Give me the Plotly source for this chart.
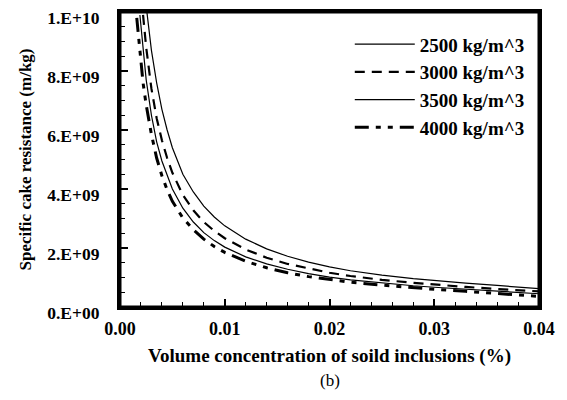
import plotly.graph_objects as go

# Volume concentration (%) and specific cake resistance (m/kg, in 1e9 units)
x_2500 = [0.0025, 0.003, 0.0035, 0.004, 0.0045, 0.005, 0.006, 0.007, 0.008, 0.009, 0.010,
          0.012, 0.014, 0.016, 0.018, 0.020, 0.022, 0.025, 0.028, 0.030, 0.033, 0.036, 0.040]
y_2500 = [10.2, 8.7, 7.6, 6.7, 6.0, 5.4, 4.5, 3.9, 3.42, 3.05, 2.75,
          2.3, 1.97, 1.72, 1.52, 1.36, 1.23, 1.08, 0.96, 0.89, 0.81, 0.73, 0.62]

x_3000 = [0.0022, 0.0025, 0.003, 0.0035, 0.004, 0.0045, 0.005, 0.006, 0.007, 0.008, 0.009, 0.010,
          0.012, 0.014, 0.016, 0.018, 0.020, 0.022, 0.025, 0.028, 0.030, 0.033, 0.036, 0.040]
y_3000 = [9.9, 8.8, 7.4, 6.4, 5.65, 5.05, 4.55, 3.8, 3.28, 2.88, 2.58, 2.33,
          1.95, 1.67, 1.46, 1.30, 1.16, 1.05, 0.92, 0.82, 0.76, 0.68, 0.61, 0.53]

x_3500 = [0.0019, 0.0022, 0.0025, 0.003, 0.0035, 0.004, 0.0045, 0.005, 0.006, 0.007, 0.008, 0.009, 0.010,
          0.012, 0.014, 0.016, 0.018, 0.020, 0.022, 0.025, 0.028, 0.030, 0.033, 0.036, 0.040]
y_3500 = [9.9, 8.7, 7.7, 6.5, 5.6, 4.95, 4.45, 4.0, 3.35, 2.88, 2.52, 2.25, 2.03,
          1.70, 1.46, 1.28, 1.13, 1.01, 0.92, 0.81, 0.72, 0.67, 0.60, 0.53, 0.45]

x_4000 = [0.0016, 0.0019, 0.0022, 0.0025, 0.003, 0.0035, 0.004, 0.0045, 0.005, 0.006, 0.007, 0.008, 0.009, 0.010,
          0.012, 0.014, 0.016, 0.018, 0.020, 0.022, 0.025, 0.028, 0.030, 0.033, 0.036, 0.040]
y_4000 = [9.8, 8.6, 7.6, 6.85, 5.85, 5.05, 4.45, 3.97, 3.58, 3.02, 2.62, 2.3, 2.05, 1.85,
          1.55, 1.33, 1.16, 1.03, 0.93, 0.84, 0.74, 0.65, 0.60, 0.53, 0.46, 0.36]

labels = ["2500 kg/m^3", "3000 kg/m^3", "3500 kg/m^3", "4000 kg/m^3"]
y_tickvals = [0, 2e9, 4e9, 6e9, 8e9, 1e10]
y_ticktext = ["0.E+00", "2.E+09", "4.E+09", "6.E+09", "8.E+09", "1.E+10"]
x_tickvals = [0.0, 0.01, 0.02, 0.03, 0.04]
x_ticktext = ["0.00", "0.01", "0.02", "0.03", "0.04"]

series = [(x_2500, y_2500), (x_3000, y_3000), (x_3500, y_3500), (x_4000, y_4000)]
styles = [dict(width=1.2, dash="solid"),
          dict(width=2.2, dash="10px,7px"),
          dict(width=1.2, dash="solid"),
          dict(width=3, dash="14px,7px,5px,7px,5px,7px")]

FONT = "Liberation Serif"
fig = go.Figure()
for (xs, ys), lab, st in zip(series, labels, styles):
    fig.add_trace(go.Scatter(x=xs, y=[v * 1e9 for v in ys], mode="lines", name=lab,
                             legendgroup=lab,
                             line=dict(color="black", width=st["width"], dash=st["dash"])))

fig.update_layout(
    width=559, height=392,
    margin=dict(l=112, r=28, t=4, b=93),
    paper_bgcolor="white", plot_bgcolor="white",
    font=dict(family=FONT, size=18, color="black"),
    showlegend=True,
    legend=dict(x=0.978, y=0.955, xanchor="right", yanchor="top", itemwidth=60,
                bgcolor="rgba(0,0,0,0)", traceorder="grouped", tracegroupgap=0,
                font=dict(family=FONT, size=19, color="black", weight="bold")),
    xaxis=dict(range=[0, 0.04], tickvals=x_tickvals, ticktext=x_ticktext,
               ticks="inside", ticklen=8, tickwidth=1.5, tickcolor="black",
               showline=True, linewidth=3, linecolor="black", mirror=True,
               showgrid=False, zeroline=False, automargin=False, ticklabelstandoff=3,
               ticklabeloverflow="allow",
               minor=dict(ticks="inside", dtick=0.002, ticklen=5, tickwidth=1, tickcolor="black"),
               tickfont=dict(family=FONT, size=18, weight="bold"),
               title=dict(text="Volume concentration of soild inclusions (%)",
                          font=dict(family=FONT, size=19, weight="bold"), standoff=12)),
    yaxis=dict(range=[0, 1e10], tickvals=y_tickvals, ticktext=y_ticktext,
               ticks="inside", ticklen=8, tickwidth=1.5, tickcolor="black",
               showline=True, linewidth=3, linecolor="black", mirror=True,
               showgrid=False, zeroline=False, automargin=False, ticklabelstandoff=14,
               ticklabeloverflow="allow", ticklabelshift=6,
               minor=dict(ticks="inside", dtick=5e8, ticklen=5, tickwidth=1, tickcolor="black"),
               tickfont=dict(family=FONT, size=17.5, weight="bold"),
               title=dict(text="Specific cake resistance (m/kg)",
                          font=dict(family=FONT, size=17, weight="bold"), standoff=12)),
    shapes=[dict(type="rect", xref="paper", yref="paper", x0=0, x1=1, y0=0, y1=1,
                 line=dict(color="black", width=3), fillcolor="rgba(0,0,0,0)", layer="above")],
    annotations=[dict(text="(b)", x=0.5, y=-0.25, xref="paper", yref="paper",
                      xanchor="center", yanchor="middle", showarrow=False,
                      font=dict(family=FONT, size=17, color="black"))],
)

fig.write_html("out.html")
